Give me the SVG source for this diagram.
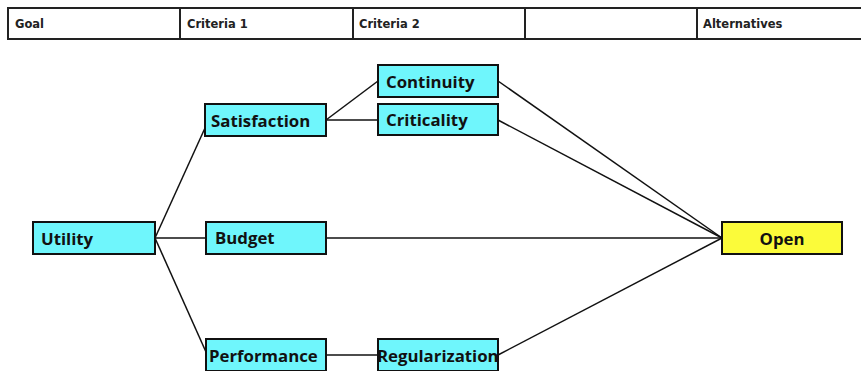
<svg xmlns="http://www.w3.org/2000/svg" width="861" height="371" viewBox="0 0 861 371">
<style>
.hdr{fill:#fff;stroke:#222;stroke-width:2}
.ht{font-family:"DejaVu Sans",sans-serif;font-weight:bold;font-size:11.5px;fill:#222}
.n rect{stroke:#111;stroke-width:2}
.c rect{fill:#6ff6fc}
.y rect{fill:#fbfb3a}
.n text{font-family:"Open Sans","Liberation Sans",sans-serif;font-weight:bold;font-size:16.8px;fill:#111}
.e line{stroke:#111;stroke-width:1.5}
</style>
<rect width="861" height="371" fill="#fff"/>
<g id="header">
<rect class="hdr" x="8" y="8" width="860" height="31"/>
<line x1="180" y1="8" x2="180" y2="39" stroke="#222" stroke-width="2"/>
<line x1="353" y1="8" x2="353" y2="39" stroke="#222" stroke-width="2"/>
<line x1="525" y1="8" x2="525" y2="39" stroke="#222" stroke-width="2"/>
<line x1="697" y1="8" x2="697" y2="39" stroke="#222" stroke-width="2"/>
<text class="ht" x="15" y="28">Goal</text>
<text class="ht" x="187" y="28">Criteria 1</text>
<text class="ht" x="359" y="28">Criteria 2</text>
<text class="ht" x="703" y="28">Alternatives</text>
</g>
<g id="connectors" class="e">
<line x1="155" y1="238" x2="205" y2="128"/>
<line x1="155" y1="238" x2="206" y2="238"/>
<line x1="155" y1="238" x2="206" y2="352"/>
<line x1="326" y1="120" x2="378" y2="81"/>
<line x1="326" y1="120" x2="378" y2="120"/>
<line x1="498" y1="81" x2="722" y2="238"/>
<line x1="498" y1="120" x2="722" y2="238"/>
<line x1="326" y1="238" x2="722" y2="238"/>
<line x1="326" y1="355" x2="378" y2="355"/>
<line x1="498" y1="355" x2="722" y2="238"/>
</g>
<g id="continuity" class="n c"><rect x="378" y="65" width="120" height="32"/><text x="386" y="88">Continuity</text></g>
<g id="criticality" class="n c"><rect x="378" y="104" width="120" height="31"/><text x="386" y="126">Criticality</text></g>
<g id="satisfaction" class="n c"><rect x="205" y="104" width="121" height="32"/><text x="211" y="127">Satisfaction</text></g>
<g id="utility" class="n c"><rect x="33" y="222" width="122" height="32"/><text x="41" y="245">Utility</text></g>
<g id="budget" class="n c"><rect x="206" y="222" width="120" height="32"/><text x="215" y="244">Budget</text></g>
<g id="open" class="n y"><rect x="722" y="222" width="120" height="32"/><text x="782" y="245" text-anchor="middle">Open</text></g>
<g id="performance" class="n c"><rect x="206" y="339" width="120" height="32"/><text x="209" y="362">Performance</text></g>
<g id="regularization" class="n c"><rect x="378" y="339" width="120" height="32"/><text x="377" y="362">Regularization</text></g>
</svg>
